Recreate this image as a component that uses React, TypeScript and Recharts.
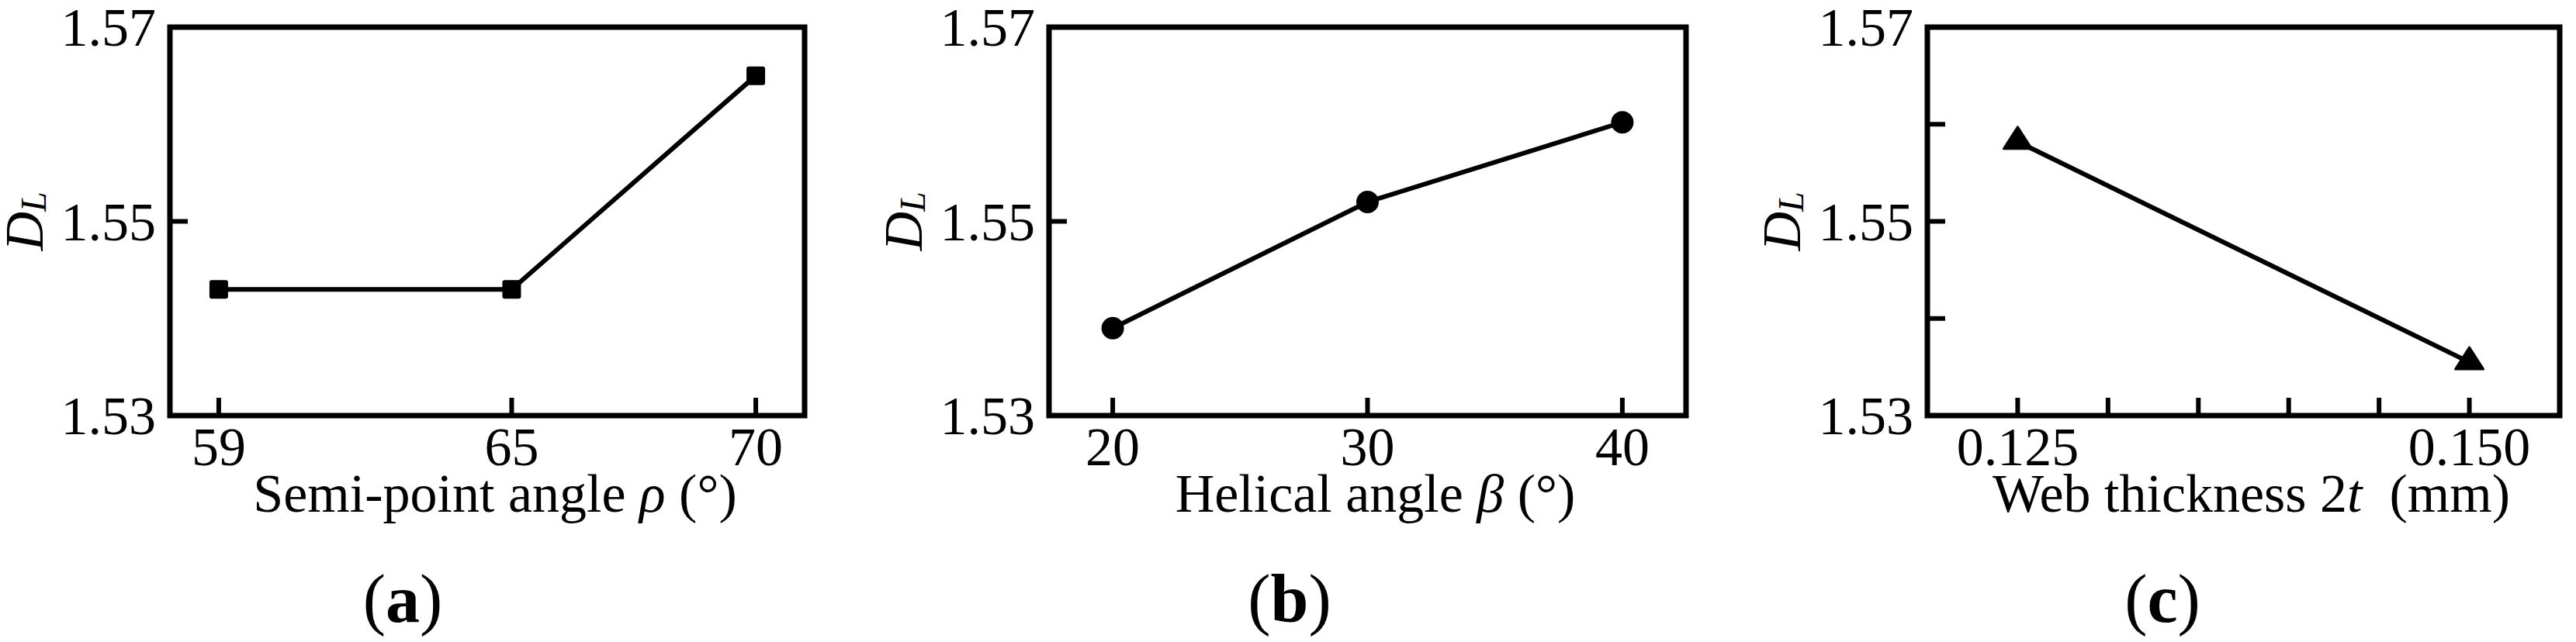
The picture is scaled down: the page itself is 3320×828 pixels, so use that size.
import React from 'react';
import { LineChart, Line, XAxis, YAxis, ReferenceArea, Label } from 'recharts';

const FONT = '"Liberation Serif", "Times New Roman", serif';

// shared y scale
const yDomain = [1.53, 1.57];
const yTicks = [1.53, 1.55, 1.57];
const yTicksFine = [1.53, 1.54, 1.55, 1.56, 1.57];
const yLabelled = [1.53, 1.55, 1.57];

// (a) semi-point angle
const rhoAngles = [59, 65, 70];
const rhoDL = [1.543, 1.543, 1.565];

// (b) helical angle
const betaAngles = [20, 30, 40];
const betaDL = [1.539, 1.552, 1.5602];

// (c) web thickness
const webThickness = [0.125, 0.15];
const webDL = [1.5582, 1.5355];
const webTicks = [0.125, 0.13, 0.135, 0.14, 0.145, 0.15];
const webLabelled = [0.125, 0.15];

const toRows = (xs: number[], ys: number[]) => xs.map((x, i) => ({ x, v: ys[i] }));

const SquareDot = (p: any) => (
  <rect key={`d-${p.index}`} x={p.cx - 12} y={p.cy - 12} width={24} height={24} rx={3} fill="#000" />
);
const CircleDot = (p: any) => <circle key={`d-${p.index}`} cx={p.cx} cy={p.cy} r={14.5} fill="#000" />;
const TriangleDot = (p: any) => (
  <path
    key={`d-${p.index}`}
    d={`M${p.cx},${p.cy - 19} L${p.cx + 18},${p.cy + 9} L${p.cx - 18},${p.cy + 9} Z`}
    fill="#000"
    stroke="#000"
    strokeWidth={3}
    strokeLinejoin="round"
  />
);

function makeXTick(labelled: number[] | null, fmt: (v: number) => string) {
  return (p: any) => {
    const v = p.payload.value;
    const show = labelled ? labelled.some((l) => Math.abs(l - v) < 1e-9) : true;
    return (
      <g>
        <line x1={p.x} x2={p.x} y1={p.y} y2={p.y - 23} stroke="#000" strokeWidth={6} />
        {show && (
          <text x={p.x} y={p.y + 64} textAnchor="middle" fontSize={70} fontFamily={FONT} fill="#000">
            {fmt(v)}
          </text>
        )}
      </g>
    );
  };
}

const YTick = (p: any) => {
  const v = p.payload.value;
  const show = yLabelled.some((l) => Math.abs(l - v) < 1e-9);
  return (
    <g>
      <line x1={p.x} x2={p.x + 23} y1={p.y} y2={p.y} stroke="#000" strokeWidth={6} />
      {show && (
        <text x={p.x - 18} y={p.y + 24} textAnchor="end" fontSize={70} fontFamily={FONT} fill="#000">
          {v.toFixed(2)}
        </text>
      )}
    </g>
  );
};

const yTitle = (props: any) => {
  const vb = props.viewBox;
  const x = vb.x + vb.width - 188;
  const y = vb.y + vb.height / 2;
  return (
    <text x={x} y={y} transform={`rotate(-90, ${x}, ${y})`} textAnchor="middle" dominantBaseline="central" fontFamily={FONT} fill="#000">
      <tspan fontSize={70} fontStyle="italic">D</tspan>
      <tspan fontSize={46} fontStyle="italic" dy={12}>L</tspan>
    </text>
  );
};

function xTitle(content: React.ReactNode) {
  return (props: any) => {
    const vb = props.viewBox;
    return (
      <text x={vb.x + vb.width / 2 + 10} y={vb.y + 124} textAnchor="middle" fontSize={70} fontFamily={FONT} fill="#000" style={{ whiteSpace: 'pre' }}>
        {content}
      </text>
    );
  };
}

type PanelProps = {
  left: number;
  plotLeft: number;
  plotRight: number;
  data: { x: number; v: number }[];
  xDomain: number[];
  xTicks: number[];
  xTick: (p: any) => React.ReactElement;
  yTickValues: number[];
  title: React.ReactNode;
  dot: (p: any) => React.ReactElement;
};

function Panel({ left, plotLeft, plotRight, data, xDomain, xTicks, xTick, yTickValues, title, dot }: PanelProps) {
  const width = 1100;
  const height = 700;
  return (
    <div style={{ position: 'absolute', left, top: 0 }}>
      <LineChart width={width} height={height} data={data} margin={{ top: 35, right: width - plotRight, left: 0, bottom: 0 }}>
        <XAxis
          dataKey="x"
          type="number"
          domain={xDomain}
          ticks={xTicks}
          interval={0}
          allowDataOverflow
          height={164}
          axisLine={false}
          tickLine={false}
          tickSize={0}
          tickMargin={0}
          tick={xTick}
        >
          <Label content={xTitle(title)} />
        </XAxis>
        <YAxis
          type="number"
          domain={yDomain}
          ticks={yTickValues}
          interval={0}
          allowDataOverflow
          width={plotLeft}
          axisLine={false}
          tickLine={false}
          tickSize={0}
          tickMargin={0}
          tick={YTick}
        >
          <Label content={yTitle} />
        </YAxis>
        <ReferenceArea x1={xDomain[0]} x2={xDomain[1]} y1={yDomain[0]} y2={yDomain[1]} fill="none" stroke="#000" strokeWidth={7} />
        <Line type="linear" dataKey="v" stroke="#000" strokeWidth={6} dot={dot} activeDot={false} isAnimationActive={false} />
      </LineChart>
    </div>
  );
}

export default function App() {
  return (
    <div style={{ position: 'absolute', left: 0, top: 0, width: 3320, height: 828, background: '#fff' }}>
      <Panel
        left={0}
        plotLeft={219}
        plotRight={1037}
        data={toRows(rhoAngles, rhoDL)}
        xDomain={[58, 71]}
        xTicks={rhoAngles}
        xTick={makeXTick(null, (v) => String(v))}
        yTickValues={yTicks}
        title={<>Semi-point angle <tspan fontStyle="italic">ρ</tspan> (°)</>}
        dot={SquareDot}
      />
      <Panel
        left={1110}
        plotLeft={242}
        plotRight={1063}
        data={toRows(betaAngles, betaDL)}
        xDomain={[17.5, 42.5]}
        xTicks={betaAngles}
        xTick={makeXTick(null, (v) => String(v))}
        yTickValues={yTicks}
        title={<>Helical angle <tspan fontStyle="italic">β</tspan> (°)</>}
        dot={CircleDot}
      />
      <Panel
        left={2220}
        plotLeft={264}
        plotRight={1079}
        data={toRows(webThickness, webDL)}
        xDomain={[0.12, 0.155]}
        xTicks={webTicks}
        xTick={makeXTick(webLabelled, (v) => v.toFixed(3))}
        yTickValues={yTicksFine}
        title={<>Web thickness 2<tspan fontStyle="italic">t</tspan>{'  '}(mm)</>}
        dot={TriangleDot}
      />
      <svg width={3320} height={828} style={{ position: 'absolute', left: 0, top: 0, pointerEvents: 'none' }}>
        {[
          { x: 519, t: 'a' },
          { x: 1662, t: 'b' },
          { x: 2787, t: 'c' },
        ].map((c) => (
          <text key={c.t} x={c.x} y={802} textAnchor="middle" fontSize={88} fontFamily={FONT} fill="#000">
            (<tspan fontWeight="bold">{c.t}</tspan>)
          </text>
        ))}
      </svg>
    </div>
  );
}
